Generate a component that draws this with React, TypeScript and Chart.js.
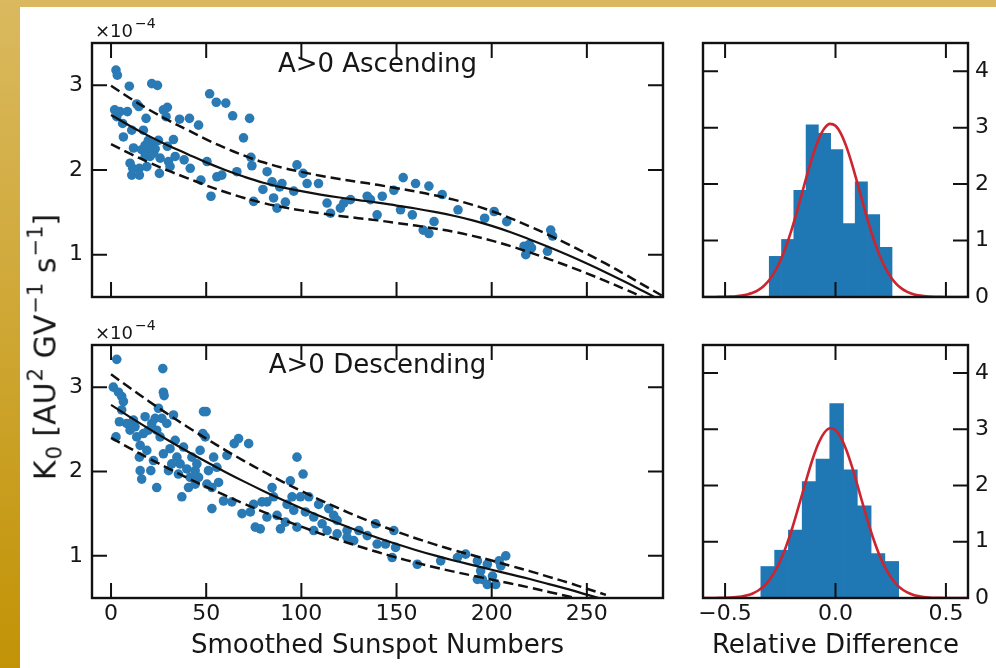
import React, { useEffect, useRef } from 'react';
import { Chart, registerables } from 'chart.js';

Chart.register(...registerables);

const FONT = '"DejaVu Sans", sans-serif';
const TEXT = '#161616';
const POINT_BLUE = '#2a7ab5';
const BAR_BLUE = '#1f77b4';
const RED = '#cc2530';

// ---------- scatter panels ----------
const sunspotTicks = [0, 50, 100, 150, 200, 250];
const kTicks = [1, 2, 3];

const ascSunspot = [2.6, 3.3, 1.9, 3.0, 6.1, 9.6, 8.6, 13.5, 14.6, 10.9, 11.8, 10.0, 11.4, 10.9, 14.9, 16.1, 17.9, 18.8, 20.5, 18.4, 17.0, 21.4, 24.4, 20.5, 22.3, 19.6, 24.9, 25.8, 25.4, 27.5, 29.6, 28.9, 30.2, 31.0, 33.7, 32.8, 36.0, 38.4, 41.2, 41.6, 46.0, 47.2, 50.4, 51.8, 52.5, 55.3, 55.6, 58.2, 60.3, 63.9, 66.1, 69.6, 72.8, 73.5, 74.0, 74.9, 79.8, 82.0, 84.6, 85.4, 87.2, 88.6, 89.8, 91.6, 96.0, 97.7, 100.9, 103.0, 109.0, 113.5, 115.3, 120.5, 122.3, 125.8, 134.6, 136.3, 139.8, 142.5, 148.6, 153.5, 152.1, 158.3, 160.0, 167.0, 164.0, 167.0, 169.7, 174.0, 182.3, 196.3, 201.3, 207.9, 217.0, 219.7, 217.9, 220.9, 229.3, 231.0, 232.0, 6.5, 17.9, 21.4, 23.2, 29.6, 18.8, 14.9, 4.7];
const ascK = [3.18, 3.12, 2.71, 2.63, 2.55, 2.99, 2.69, 2.78, 2.75, 2.47, 2.26, 2.08, 2.02, 1.94, 2.02, 2.24, 2.29, 2.20, 2.26, 2.61, 2.47, 3.02, 3.00, 2.16, 2.20, 2.35, 2.35, 2.14, 1.96, 2.71, 2.74, 2.63, 2.10, 2.04, 2.16, 2.36, 2.60, 2.12, 2.61, 2.02, 2.53, 1.88, 2.10, 2.90, 1.69, 2.80, 1.92, 1.94, 2.79, 2.64, 1.98, 2.38, 2.61, 2.15, 2.05, 1.63, 1.77, 1.98, 1.86, 1.67, 1.55, 1.80, 1.84, 1.62, 1.75, 2.06, 1.96, 1.84, 1.84, 1.61, 1.49, 1.55, 1.61, 1.65, 1.69, 1.65, 1.47, 1.69, 1.76, 1.91, 1.53, 1.47, 1.84, 1.81, 1.29, 1.25, 1.39, 1.71, 1.53, 1.43, 1.51, 1.39, 1.10, 1.12, 1.00, 1.08, 1.04, 1.29, 1.22, 2.39, 2.16, 2.31, 2.25, 2.28, 2.04, 1.94, 2.69];

const descSunspot = [3.0, 1.2, 3.9, 5.6, 6.5, 5.6, 4.4, 2.6, 8.2, 11.8, 13.5, 15.3, 14.9, 15.3, 16.1, 17.9, 19.6, 18.8, 21.4, 23.2, 24.0, 25.8, 20.9, 24.0, 24.9, 26.7, 27.2, 27.5, 27.9, 29.3, 31.0, 32.8, 33.7, 34.6, 36.3, 38.1, 37.2, 39.8, 40.7, 42.5, 44.2, 45.1, 46.0, 46.8, 48.2, 48.6, 50.0, 49.5, 51.2, 53.0, 53.9, 55.6, 56.5, 60.9, 63.5, 64.7, 67.0, 68.8, 72.3, 73.2, 75.8, 78.4, 79.3, 81.9, 84.6, 85.4, 87.2, 89.0, 91.6, 94.2, 95.1, 96.0, 97.7, 97.7, 99.5, 100.9, 102.1, 103.9, 106.5, 109.1, 110.9, 113.5, 114.4, 117.0, 118.8, 124.0, 127.5, 130.2, 134.6, 139.0, 139.8, 144.2, 148.6, 149.5, 147.7, 160.9, 173.2, 182.0, 186.3, 192.5, 194.2, 195.1, 197.7, 200.4, 202.1, 203.9, 207.4, 204.8, 197.7, 192.5, 10.0, 12.6, 17.0, 22.3, 27.5, 30.2, 31.9, 35.4, 41.6, 44.2, 50.4, 53.0, 59.1, 74.9, 81.9, 92.5, 106.5, 118.8, 124.0];
const descK = [3.33, 3.00, 2.94, 2.89, 2.83, 2.73, 2.59, 2.41, 2.57, 2.61, 2.41, 2.31, 2.17, 2.01, 1.91, 2.65, 2.49, 2.25, 2.57, 2.63, 2.49, 2.41, 2.01, 1.81, 2.75, 2.63, 3.22, 2.94, 2.90, 2.57, 2.27, 2.67, 2.37, 2.17, 2.09, 2.29, 1.70, 2.03, 1.81, 2.17, 2.01, 2.09, 1.93, 2.25, 2.45, 2.71, 2.71, 2.41, 2.01, 1.56, 2.17, 2.05, 1.87, 2.19, 1.64, 2.33, 2.39, 1.50, 2.33, 1.52, 1.34, 1.32, 1.64, 1.64, 1.81, 1.70, 1.48, 1.32, 1.40, 1.89, 1.70, 1.54, 2.17, 1.34, 1.70, 1.97, 1.52, 1.70, 1.46, 1.61, 1.38, 1.30, 1.56, 1.48, 1.26, 1.30, 1.18, 1.30, 1.24, 1.38, 1.14, 1.14, 1.30, 1.10, 0.98, 0.90, 0.94, 0.98, 1.02, 0.94, 0.82, 0.72, 0.90, 0.76, 0.66, 0.94, 1.00, 0.88, 0.66, 0.72, 2.49, 2.53, 2.45, 2.13, 2.21, 2.01, 2.09, 1.97, 1.93, 1.85, 1.85, 1.81, 1.65, 1.61, 1.46, 1.61, 1.30, 1.42, 1.22];

const fitSunspotAsc = [0, 10, 20, 30, 40, 50, 60, 70, 80, 90, 100, 110, 120, 130, 140, 150, 160, 170, 180, 190, 200, 210, 220, 230, 240, 250, 260, 270, 280, 290];
const fitAsc = [2.650, 2.520, 2.400, 2.290, 2.190, 2.090, 2.000, 1.920, 1.850, 1.795, 1.750, 1.710, 1.675, 1.645, 1.615, 1.580, 1.545, 1.505, 1.460, 1.405, 1.340, 1.265, 1.180, 1.090, 0.995, 0.895, 0.790, 0.680, 0.565, 0.450];
const upperAsc = [2.995, 2.848, 2.712, 2.588, 2.475, 2.362, 2.260, 2.170, 2.091, 2.028, 1.978, 1.932, 1.893, 1.859, 1.825, 1.785, 1.746, 1.701, 1.650, 1.588, 1.514, 1.429, 1.333, 1.232, 1.124, 1.011, 0.893, 0.768, 0.638, 0.509];
const lowerAsc = [2.306, 2.192, 2.088, 1.992, 1.905, 1.818, 1.740, 1.670, 1.610, 1.562, 1.523, 1.488, 1.457, 1.431, 1.405, 1.375, 1.344, 1.309, 1.270, 1.222, 1.166, 1.101, 1.027, 0.948, 0.866, 0.779, 0.687, 0.592, 0.492, 0.392];

const fitSunspotDesc = [0, 10, 20, 30, 40, 50, 60, 70, 80, 90, 100, 110, 120, 130, 140, 150, 160, 170, 180, 190, 200, 210, 220, 230, 240, 250, 260];
const fitDesc = [2.790, 2.645, 2.505, 2.370, 2.240, 2.115, 1.995, 1.880, 1.770, 1.665, 1.565, 1.470, 1.380, 1.295, 1.215, 1.140, 1.070, 1.005, 0.945, 0.890, 0.835, 0.780, 0.725, 0.665, 0.605, 0.540, 0.475];
const upperDesc = [3.153, 2.989, 2.831, 2.678, 2.531, 2.390, 2.254, 2.124, 2.000, 1.881, 1.768, 1.661, 1.559, 1.463, 1.373, 1.288, 1.209, 1.136, 1.068, 1.006, 0.944, 0.881, 0.819, 0.751, 0.684, 0.610, 0.537];
const lowerDesc = [2.399, 2.275, 2.154, 2.038, 1.926, 1.819, 1.716, 1.617, 1.522, 1.432, 1.346, 1.264, 1.187, 1.114, 1.045, 0.980, 0.920, 0.864, 0.813, 0.765, 0.718, 0.671, 0.624, 0.572, 0.520, 0.464, 0.409];

// ---------- histogram panels ----------
const relDiffTicks = [-0.5, 0, 0.5];
const countTicks = [0, 1, 2, 3, 4];

const ascBinEdges = [-0.300, -0.2444, -0.1888, -0.1332, -0.0776, -0.022, 0.0336, 0.0892, 0.1448, 0.2004, 0.256];
const ascDensity = [0.72, 1.02, 1.89, 3.05, 2.90, 2.61, 1.30, 2.04, 1.46, 0.88];
const descBinEdges = [-0.338, -0.2756, -0.2132, -0.1508, -0.0884, -0.026, 0.0364, 0.0988, 0.1612, 0.2236, 0.286];
const descDensity = [0.56, 0.85, 1.21, 2.07, 2.47, 3.46, 2.28, 1.64, 0.79, 0.65];

const gaussX = [-0.6, -0.575, -0.55, -0.525, -0.5, -0.475, -0.45, -0.425, -0.4, -0.375, -0.35, -0.325, -0.3, -0.275, -0.25, -0.225, -0.2, -0.175, -0.15, -0.125, -0.1, -0.075, -0.05, -0.025, 0, 0.025, 0.05, 0.075, 0.1, 0.125, 0.15, 0.175, 0.2, 0.225, 0.25, 0.275, 0.3, 0.325, 0.35, 0.375, 0.4, 0.425, 0.45, 0.475, 0.5, 0.525, 0.55, 0.575, 0.6];
const gaussAsc = [0.0001, 0.0003, 0.0008, 0.0016, 0.0034, 0.0067, 0.013, 0.024, 0.043, 0.074, 0.122, 0.196, 0.302, 0.448, 0.642, 0.886, 1.177, 1.508, 1.862, 2.216, 2.540, 2.807, 2.989, 3.068, 3.034, 2.891, 2.656, 2.351, 2.005, 1.648, 1.306, 0.997, 0.733, 0.520, 0.355, 0.234, 0.148, 0.091, 0.053, 0.030, 0.017, 0.0088, 0.0045, 0.0022, 0.0010, 0.0005, 0.0002, 0.0001, 0.0];
const gaussDesc = [0.0002, 0.0004, 0.001, 0.002, 0.004, 0.008, 0.015, 0.027, 0.048, 0.081, 0.133, 0.209, 0.318, 0.468, 0.662, 0.905, 1.192, 1.517, 1.859, 2.201, 2.513, 2.769, 2.943, 3.018, 2.986, 2.849, 2.624, 2.331, 1.998, 1.652, 1.318, 1.014, 0.753, 0.539, 0.373, 0.248, 0.160, 0.099, 0.059, 0.034, 0.019, 0.010, 0.005, 0.0027, 0.0013, 0.0006, 0.0003, 0.0001, 0.0];

// ---------- helpers ----------
const tickFont = { family: FONT, size: 22 };
const titleFont = { family: FONT, size: 26 };

const fixedTicks = (vals: number[]) => (s: any) => {
  s.ticks = vals.map((v) => ({ value: v }));
};

const frameTicks = {
  id: 'frameTicks',
  afterDatasetsDraw(chart: any) {
    const { ctx, chartArea: a, scales } = chart;
    const xs = scales.x;
    const ys = scales.y;
    const L = 15;
    ctx.save();
    ctx.strokeStyle = '#111';
    ctx.lineWidth = 2;
    ctx.beginPath();
    for (const t of xs.ticks) {
      const px = xs.getPixelForValue(t.value);
      ctx.moveTo(px, a.bottom);
      ctx.lineTo(px, a.bottom - L);
      ctx.moveTo(px, a.top);
      ctx.lineTo(px, a.top + L);
    }
    for (const t of ys.ticks) {
      const py = ys.getPixelForValue(t.value);
      ctx.moveTo(a.left, py);
      ctx.lineTo(a.left + L, py);
      ctx.moveTo(a.right, py);
      ctx.lineTo(a.right - L, py);
    }
    ctx.stroke();
    ctx.lineWidth = 2.4;
    ctx.strokeRect(a.left, a.top, a.right - a.left, a.bottom - a.top);
    ctx.restore();
  },
};

const hiddenGrid = { display: false, drawTicks: false };

function baseOptions(padding: any) {
  return {
    responsive: false,
    animation: false as const,
    devicePixelRatio: 1,
    events: [] as any[],
    layout: { padding },
    plugins: { legend: { display: false }, tooltip: { enabled: false } },
  };
}

function scatterConfig(
  xs: number[], ys: number[], fx: number[], fy: number[], up: number[], lo: number[],
  showX: boolean, padTop: number, xH: number
) {
  const line = (vals: number[], dash: number[], w: number) => ({
    data: fx.map((x, i) => ({ x, y: vals[i] })),
    showLine: true,
    borderColor: '#111',
    borderWidth: w,
    borderDash: dash,
    pointRadius: 0,
    tension: 0.4,
    order: 0,
  });
  return {
    type: 'scatter',
    data: {
      datasets: [
        line(up, [10, 5], 2.5),
        line(lo, [10, 5], 2.5),
        line(fy, [], 2.2),
        {
          data: xs.map((x, i) => ({ x, y: ys[i] })),
          backgroundColor: POINT_BLUE,
          borderWidth: 0,
          pointRadius: 4.8,
          order: 1,
        },
      ],
    },
    options: {
      ...baseOptions({ left: 0, top: padTop, right: 17, bottom: 0 }),
      scales: {
        x: {
          type: 'linear',
          min: -10,
          max: 290,
          afterBuildTicks: fixedTicks(sunspotTicks),
          afterFit: (s: any) => { s.height = xH; },
          grid: hiddenGrid,
          border: { display: false },
          ticks: { display: showX, font: tickFont, color: TEXT, padding: 3, maxRotation: 0, autoSkip: false },
          title: { display: showX, text: 'Smoothed Sunspot Numbers', font: titleFont, color: TEXT, padding: { top: 0, bottom: 6 } },
        },
        y: {
          type: 'linear',
          min: 0.5,
          max: 3.5,
          afterBuildTicks: fixedTicks(kTicks),
          afterFit: (s: any) => { s.width = 92; },
          grid: hiddenGrid,
          border: { display: false },
          ticks: { font: tickFont, color: TEXT, padding: 9 },
        },
      },
    },
    plugins: [frameTicks],
  };
}

function histConfig(edges: number[], dens: number[], gy: number[], showX: boolean, padTop: number, xH: number) {
  const centers = dens.map((_, i) => (edges[i] + edges[i + 1]) / 2);
  return {
    type: 'bar',
    data: {
      datasets: [
        {
          type: 'line',
          data: gaussX.map((x, i) => ({ x, y: gy[i] })),
          borderColor: RED,
          borderWidth: 2.6,
          pointRadius: 0,
          cubicInterpolationMode: 'monotone',
          order: 0,
        },
        {
          type: 'bar',
          data: centers.map((x, i) => ({ x, y: dens[i] })),
          backgroundColor: BAR_BLUE,
          borderWidth: 0,
          barPercentage: 1,
          categoryPercentage: 1,
          order: 1,
        },
      ],
    },
    options: {
      ...baseOptions({ left: 23, top: padTop, right: 0, bottom: 0 }),
      scales: {
        x: {
          type: 'linear',
          offset: false,
          min: -0.6,
          max: 0.6,
          afterBuildTicks: fixedTicks(relDiffTicks),
          afterFit: (s: any) => { s.height = xH; },
          grid: hiddenGrid,
          border: { display: false },
          ticks: {
            display: showX, font: tickFont, color: TEXT, padding: 3, maxRotation: 0, autoSkip: false,
            callback: (v: any) => (v < 0 ? '\u2212' : '') + Math.abs(Number(v)).toFixed(1),
          },
          title: { display: showX, text: 'Relative Difference', font: titleFont, color: TEXT, padding: { top: 0, bottom: 6 } },
        },
        y: {
          type: 'linear',
          position: 'right',
          min: 0,
          max: 4.5,
          afterBuildTicks: fixedTicks(countTicks),
          afterFit: (s: any) => { s.width = 28; },
          grid: hiddenGrid,
          border: { display: false },
          ticks: { font: tickFont, color: TEXT, padding: 7 },
        },
      },
    },
    plugins: [frameTicks],
  };
}

function ChartBox({ left, top, width, height, make }: any) {
  const ref = useRef<HTMLCanvasElement>(null);
  useEffect(() => {
    const chart = new Chart(ref.current as HTMLCanvasElement, make());
    return () => chart.destroy();
  }, []);
  return (
    <canvas
      ref={ref}
      width={width}
      height={height}
      style={{ position: 'absolute', left, top, width, height, display: 'block' }}
    />
  );
}

const txt: React.CSSProperties = { position: 'absolute', fontFamily: FONT, color: TEXT, whiteSpace: 'nowrap' };
const supStyle: React.CSSProperties = { fontSize: '0.7em', position: 'relative', top: '-0.62em', marginLeft: '1px' };
const subStyle: React.CSSProperties = { fontSize: '0.7em', position: 'relative', top: '0.3em', marginLeft: '1px' };

function Exponent({ top }: { top: number }) {
  return (
    <div style={{ ...txt, left: 95, top, fontSize: 18, lineHeight: '18px' }}>
      ×10<span style={{ fontSize: '0.78em', position: 'relative', top: '-0.62em', marginLeft: '2px' }}>−4</span>
    </div>
  );
}

function PanelLabel({ top, text }: { top: number; text: string }) {
  return (
    <div style={{ ...txt, left: 377.5, top, fontSize: 26, lineHeight: '26px', transform: 'translateX(-50%)' }}>
      {text}
    </div>
  );
}

export default function App() {
  return (
    <div style={{ position: 'fixed', left: 0, top: 0, width: 996, height: 668, background: '#ffffff', overflow: 'hidden' }}>
      <div style={{ position: 'absolute', left: 0, top: 0, width: 996, height: 7, background: '#d9b860' }} />
      <div style={{ position: 'absolute', left: 0, top: 0, width: 20, height: 668, background: 'linear-gradient(#dab95f, #c29306)' }} />

      <ChartBox left={0} top={0} width={680} height={320}
        make={() => scatterConfig(ascSunspot, ascK, fitSunspotAsc, fitAsc, upperAsc, lowerAsc, false, 43, 23)} />
      <ChartBox left={0} top={320} width={680} height={348}
        make={() => scatterConfig(descSunspot, descK, fitSunspotDesc, fitDesc, upperDesc, lowerDesc, true, 25, 70)} />
      <ChartBox left={680} top={0} width={316} height={320}
        make={() => histConfig(ascBinEdges, ascDensity, gaussAsc, false, 43, 23)} />
      <ChartBox left={680} top={320} width={316} height={348}
        make={() => histConfig(descBinEdges, descDensity, gaussDesc, true, 25, 70)} />

      <Exponent top={21.5} />
      <Exponent top={323.5} />
      <PanelLabel top={50} text="A>0 Ascending" />
      <PanelLabel top={351} text="A>0 Descending" />

      <div style={{ ...txt, left: 47, top: 347, fontSize: 30, lineHeight: '30px', transform: 'translate(-50%, -50%) rotate(-90deg)' }}>
        K<span style={subStyle}>0</span> [AU<span style={supStyle}>2</span> GV<span style={supStyle}>−1</span> s<span style={supStyle}>−1</span>]
      </div>
    </div>
  );
}
